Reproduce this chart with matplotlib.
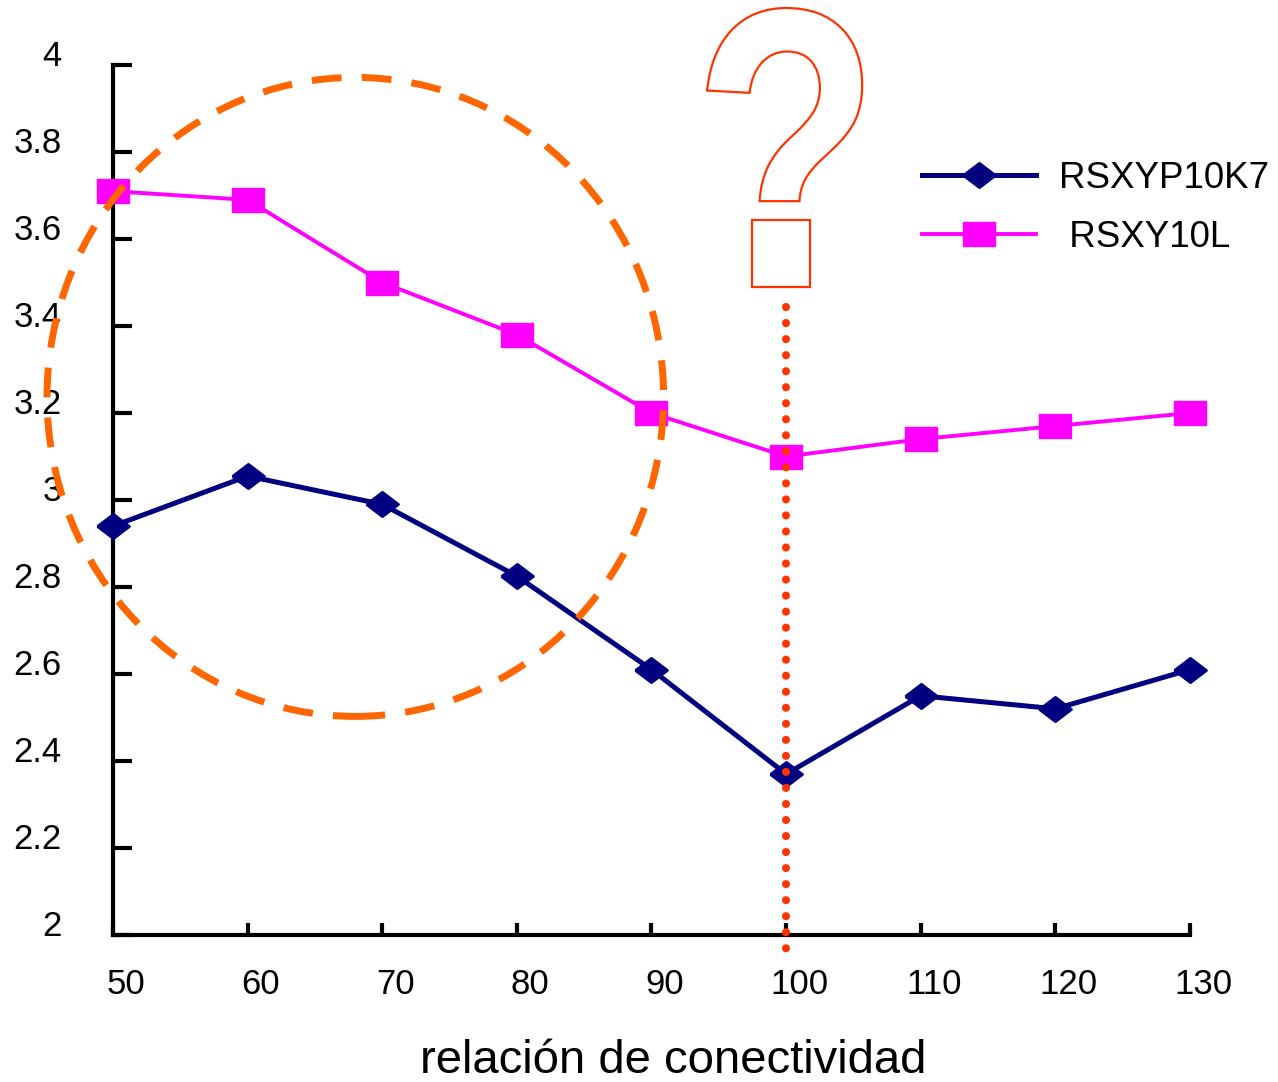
import matplotlib
matplotlib.use("Agg")
import matplotlib.pyplot as plt
import matplotlib.transforms as mtransforms
from matplotlib.patches import Ellipse, Rectangle, PathPatch
from matplotlib.path import Path
from matplotlib.textpath import TextPath
from matplotlib.font_manager import FontProperties
import numpy as np

plt.rcParams['font.family'] = ['Liberation Sans', 'DejaVu Sans']

# datos
relacion = [50, 60, 70, 80, 90, 100, 110, 120, 130]
rsxyp10k7 = [2.94, 3.055, 2.99, 2.825, 2.61, 2.37, 2.55, 2.52, 2.61]
rsxy10l = [3.71, 3.69, 3.50, 3.38, 3.20, 3.10, 3.14, 3.17, 3.20]
yticks = [2, 2.2, 2.4, 2.6, 2.8, 3, 3.2, 3.4, 3.6, 3.8, 4]
ytick_labels = ['2', '2.2', '2.4', '2.6', '2.8', '3', '3.2', '3.4', '3.6', '3.8', '4']

naranja = '#ff6600'
rojo = '#ff3300'

fig = plt.figure(figsize=(12.78, 10.82), dpi=100)
ax = fig.add_axes([113/1278, 1 - 935/1082, (1190-113)/1278, (935-65)/1082])

# marcadores: rombo aplastado y rectangulo
rombo = [(-1, 0), (0, 0.76), (1, 0), (0, -0.76), (-1, 0)]
caja = [(-1, -0.75), (1, -0.75), (1, 0.75), (-1, 0.75), (-1, -0.75)]

ax.plot(relacion, rsxyp10k7, color='#000080', lw=3.6, marker=rombo, ms=23,
        mew=2, solid_joinstyle='round', label='RSXYP10K7', clip_on=False, zorder=3)
ax.plot(relacion, rsxy10l, color='#ff00ff', lw=2.8, marker=caja, ms=23,
        label=' RSXY10L', clip_on=False, zorder=3)

ax.set_xlim(50, 130)
ax.set_ylim(2, 4)
ax.set_xticks(relacion)
ax.set_yticks(yticks)
ax.set_yticklabels(ytick_labels)

for s in ['top', 'right']:
    ax.spines[s].set_visible(False)
for s in ['left', 'bottom']:
    ax.spines[s].set_linewidth(3)
ax.tick_params(axis='y', direction='in', length=14, width=3, pad=37, labelsize=25)
ax.tick_params(axis='x', direction='in', length=9, width=3, pad=24, labelsize=25)

# etiquetas desplazadas como en el original
dx = mtransforms.ScaledTranslation(13/100, 0, fig.dpi_scale_trans)
dy = mtransforms.ScaledTranslation(0, 12/100, fig.dpi_scale_trans)
for lab in ax.get_xticklabels():
    lab.set_transform(lab.get_transform() + dx)
for lab in ax.get_yticklabels():
    lab.set_transform(lab.get_transform() + dy)

fig.text(673/1278, 1 - 1073/1082, 'relación de conectividad', fontsize=34,
         ha='center', va='baseline')

ax.legend(loc='upper left', bbox_to_anchor=(922/1278, 1 - 161/1082),
          bbox_transform=fig.transFigure, frameon=False, fontsize=26.5,
          handlelength=3.1, handletextpad=0.62, labelspacing=0.66,
          borderpad=0, borderaxespad=0)

# elipse discontinua
ax.add_patch(Ellipse((68.0, 3.237), width=45.8, height=1.469, fill=False,
                     edgecolor=naranja, lw=5, linestyle=(0, (4.3, 2.9)),
                     clip_on=False, zorder=4))

# linea punteada en 100
ax.plot([100, 100], [3.444, 1.943], color=rojo, lw=5.8,
        linestyle=(0, (0.01, 1.98)), dash_capstyle='round',
        clip_on=False, zorder=5)

# signo de interrogacion: gancho del glifo + caja en lugar del punto
fp = FontProperties(family='Liberation Sans', weight='bold')
tp = TextPath((0, 0), '?', size=1, prop=fp)
verts, codes = tp.vertices, tp.codes
inicios = list(np.where(codes == Path.MOVETO)[0]) + [len(codes)]
trozos = [Path(verts[a:b], codes[a:b]) for a, b in zip(inicios[:-1], inicios[1:])]
gancho = max(trozos, key=lambda p: p.get_extents().y1)
ext = gancho.get_extents()
X0, X1, Y0, Y1 = 94.13, 105.65, 3.687, 4.131
gv = gancho.vertices
nv = np.column_stack([X0 + (gv[:, 0] - ext.x0) / ext.width * (X1 - X0),
                      Y0 + (gv[:, 1] - ext.y0) / ext.height * (Y1 - Y0)])
ax.add_patch(PathPatch(Path(nv, gancho.codes), fill=False, edgecolor=rojo, lw=1.6,
                       clip_on=False, zorder=4))
ax.add_patch(Rectangle((97.47, 3.49), 101.78 - 97.47, 3.644 - 3.49, fill=False,
                       edgecolor=rojo, lw=1.6, clip_on=False, zorder=4))

fig.savefig('out.png', dpi=100, facecolor='white')
